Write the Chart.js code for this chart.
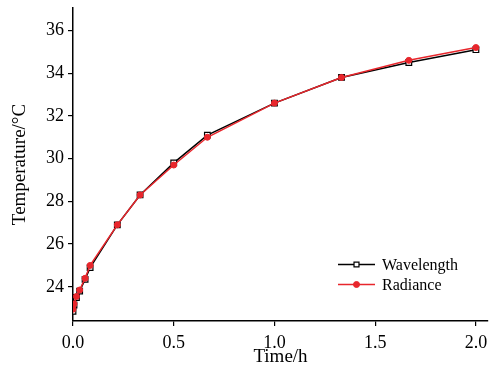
<!DOCTYPE html>
<html>
<head>
<meta charset="utf-8">
<script src="https://cdn.jsdelivr.net/npm/chart.js@4/dist/chart.umd.min.js"></script>
<style>
  html, body { margin: 0; padding: 0; background: #fff; }
  #wrap { width: 490px; height: 374px; position: relative; }
</style>
</head>
<body>
<div id="wrap"><canvas id="c" width="490" height="374"></canvas></div>
<script>
// Data
const timeH = [0, 0.005, 0.017, 0.033, 0.06, 0.085, 0.22, 0.333, 0.5, 0.667, 1.0, 1.333, 1.667, 2.0];
const wavelength = [22.85, 23.15, 23.5, 23.8, 24.35, 24.9, 26.9, 28.3, 29.8, 31.1, 32.6, 33.8, 34.5, 35.1];
const radiance   = [22.95, 23.2, 23.55, 23.85, 24.4, 25.0, 26.9, 28.3, 29.7, 31.0, 32.6, 33.8, 34.6, 35.2];
const xTicks = [0, 0.5, 1.0, 1.5, 2.0];
const yTicks = [24, 26, 28, 30, 32, 34, 36];
const seriesNames = ['Wavelength', 'Radiance'];
const xTitle = 'Time/h';
const yTitle = 'Temperature/°C';

const FONT = '"Liberation Serif", "Times New Roman", serif';
const RED = '#e8262c';
const PLOT_RIGHT = 488;

function pts(xs, ys) { return xs.map((x, i) => ({ x: x, y: ys[i] })); }

new Chart(document.getElementById('c'), {
  type: 'line',
  data: {
    datasets: [
      {
        label: seriesNames[0],
        data: pts(timeH, wavelength),
        borderColor: '#000',
        borderWidth: 1.5,
        pointStyle: 'rect',
        pointRadius: 4,
        pointBackgroundColor: '#fff',
        pointBorderColor: '#000',
        pointBorderWidth: 1.2,
        order: 1,
        tension: 0
      },
      {
        label: seriesNames[1],
        data: pts(timeH, radiance),
        borderColor: RED,
        borderWidth: 1.5,
        pointStyle: 'circle',
        pointRadius: 3,
        pointBackgroundColor: RED,
        pointBorderColor: RED,
        pointBorderWidth: 1,
        order: 0,
        tension: 0
      }
    ]
  },
  options: {
    responsive: false,
    animation: false,
    devicePixelRatio: 1,
    layout: { padding: { left: 0, right: 2, top: 8, bottom: 0 } },
    plugins: { legend: { display: false }, tooltip: { enabled: false } },
    scales: {
      x: {
        type: 'linear',
        min: 0, max: 2.06,
        afterBuildTicks(s) { s.ticks = xTicks.map(v => ({ value: v })); },
        afterFit(s) { s.height = 53; s.paddingLeft = 0; s.paddingRight = 0; },
        ticks: { color: '#000', font: { family: FONT, size: 18 }, padding: 6, maxRotation: 0,
                 callback: v => Number(v).toFixed(1) },
        grid: { drawOnChartArea: false, drawTicks: true, tickLength: 5, color: '#000', lineWidth: 1.2 },
        border: { display: true, color: '#000', width: 1.5 },
        title: { display: true, text: xTitle, color: '#000', font: { family: FONT, size: 19 }, padding: { top: 0, bottom: 6 } }
      },
      y: {
        type: 'linear',
        min: 22.4, max: 37.05,
        afterBuildTicks(s) { s.ticks = yTicks.map(v => ({ value: v })); },
        afterFit(s) { s.width = 73; s.paddingTop = 0; s.paddingBottom = 0; },
        ticks: { color: '#000', font: { family: FONT, size: 18 }, padding: 4,
                 callback: v => String(v) },
        grid: { drawOnChartArea: false, drawTicks: true, tickLength: 5, color: '#000', lineWidth: 1.2 },
        border: { display: true, color: '#000', width: 1.5 },
        title: { display: true, text: yTitle, color: '#000', font: { family: FONT, size: 19 }, padding: { top: 9, bottom: 0 } }
      }
    }
  },
  plugins: [{
    id: 'stretchRight',
    afterLayout(chart) {
      const ca = chart.chartArea;
      const dx = PLOT_RIGHT - ca.right;
      if (dx !== 0) {
        ca.right += dx; ca.width += dx;
        const x = chart.scales.x;
        x.right += dx; x.width += dx;
        if (typeof x.configure === 'function') x.configure();
      }
    }
  }, {
    id: 'customLegend',
    afterDraw(chart) {
      const ctx = chart.ctx;
      const x0 = 338, x1 = 375, tx = 382;
      const rows = [264.5, 284.5];
      ctx.save();
      chart.data.datasets.forEach((ds, i) => {
        const y = rows[i];
        ctx.strokeStyle = ds.borderColor;
        ctx.lineWidth = ds.borderWidth;
        ctx.beginPath(); ctx.moveTo(x0, y); ctx.lineTo(x1, y); ctx.stroke();
        ctx.fillStyle = ds.pointBackgroundColor;
        ctx.strokeStyle = ds.pointBorderColor;
        ctx.lineWidth = ds.pointBorderWidth;
        Chart.helpers.drawPoint(ctx, { pointStyle: ds.pointStyle, rotation: 0, radius: ds.pointStyle === 'rect' ? 3.5 : 3, borderWidth: ds.pointBorderWidth }, (x0 + x1) / 2, y);
        ctx.fillStyle = '#000';
        ctx.font = '16px ' + FONT;
        ctx.textBaseline = 'middle';
        ctx.textAlign = 'left';
        ctx.fillText(ds.label, tx, y + 1);
      });
      ctx.restore();
    }
  }]
});
</script>
</body>
</html>
